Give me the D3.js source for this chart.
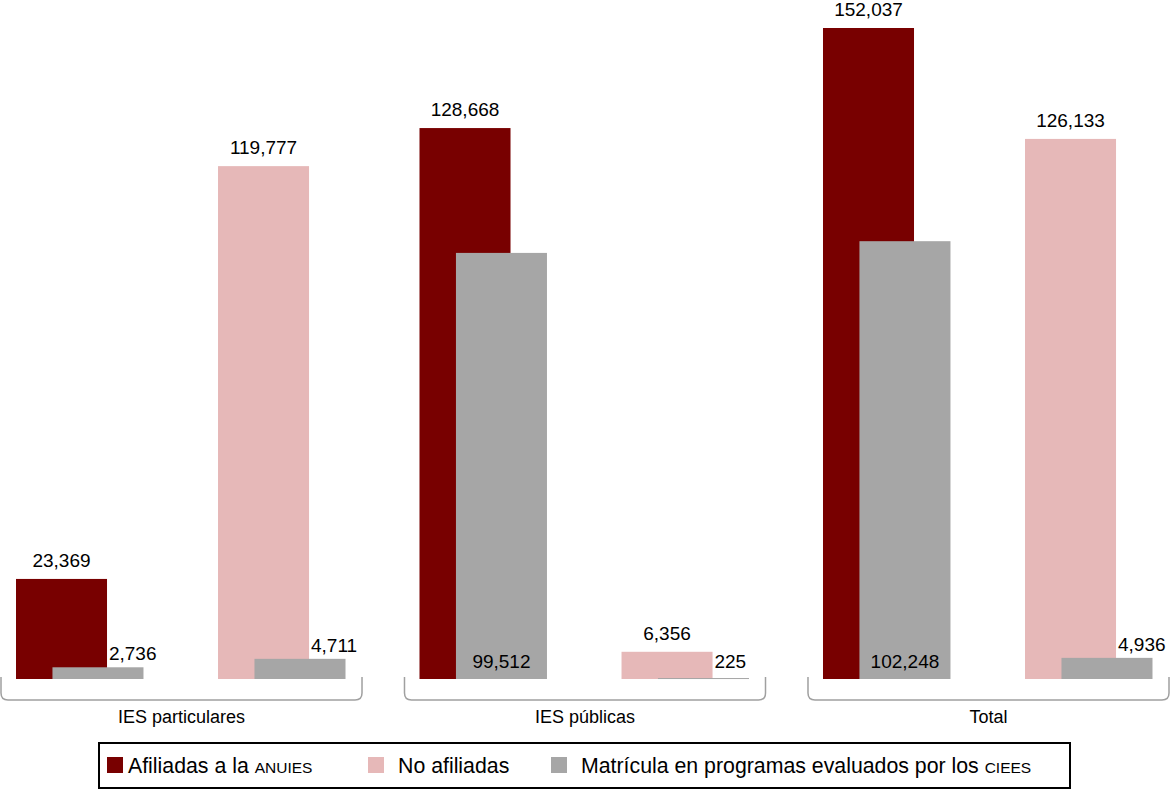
<!DOCTYPE html>
<html>
<head>
<meta charset="utf-8">
<script src="https://cdn.jsdelivr.net/npm/d3@7"></script>
<style>
  body { margin: 0; background: #fff; }
  svg { display: block; font-family: "Liberation Sans", Arial, sans-serif; }
</style>
</head>
<body>
<svg id="chart" width="1170" height="790"></svg>
<script>
// data
var groups = ["IES particulares", "IES públicas", "Total"];
var subgroups = ["Afiliadas", "No afiliadas"];
var afiliadas = [23369, 128668, 152037];
var noAfiliadas = [119777, 6356, 126133];
var ciessAfiliadas = [2736, 99512, 102248];
var ciessNoAfiliadas = [4711, 225, 4936];
var legendLabels = [
    ["Afiliadas a la ", "ANUIES"],
    ["No afiliadas", ""],
    ["Matrícula en programas evaluados por los ", "CIEES"]
];

var colors = { dark: "#780000", pink: "#e6b8b8", gray: "#a6a6a6" };
var fmt = d3.format(",");

var svg = d3.select("#chart");
var baseline = 679;

var x = d3.scaleBand().domain(groups).range([1, 1169]).paddingInner(0.1053).paddingOuter(0);
var xs = d3.scaleBand().domain(subgroups).range([15, 344.5]).paddingInner(0.369).paddingOuter(0);
var y = d3.scaleLinear().domain([0, d3.max(afiliadas)]).range([baseline, 28]);

var bw = xs.bandwidth();
var mainW = bw * 0.714;
var grayOff = bw * 0.286;

// build flat list of bar pairs
var pairs = [];
groups.forEach(function (g, i) {
    pairs.push({ g: g, s: "Afiliadas", v: afiliadas[i], c: ciessAfiliadas[i], color: colors.dark });
    pairs.push({ g: g, s: "No afiliadas", v: noAfiliadas[i], c: ciessNoAfiliadas[i], color: colors.pink });
});

function tall(d) { return baseline - y(d.c) > 40; }

// main bars
svg.selectAll("rect.main").data(pairs).enter().append("rect")
    .attr("class", "main")
    .attr("x", function (d) { return x(d.g) + xs(d.s); })
    .attr("y", function (d) { return y(d.v); })
    .attr("width", mainW)
    .attr("height", function (d) { return baseline - y(d.v); })
    .style("fill", function (d) { return d.color; });

// gray bars (on top)
svg.selectAll("rect.ciees").data(pairs).enter().append("rect")
    .attr("class", "ciees")
    .attr("x", function (d) { return x(d.g) + xs(d.s) + grayOff; })
    .attr("y", function (d) { return y(d.c); })
    .attr("width", mainW)
    .attr("height", function (d) { return Math.max(baseline - y(d.c), 1); })
    .style("fill", colors.gray);

// labels of main bars
svg.selectAll("text.mainlab").data(pairs).enter().append("text")
    .attr("x", function (d) { return x(d.g) + xs(d.s) + mainW / 2; })
    .attr("y", function (d) { return y(d.v) - 12; })
    .attr("text-anchor", "middle")
    .style("font-size", "19px")
    .style("fill", "#000")
    .text(function (d) { return fmt(d.v); });

// labels of gray bars: inside at the bottom when tall, else just right of the top
svg.selectAll("text.cieeslab").data(pairs).enter().append("text")
    .attr("x", function (d) {
        var cx = x(d.g) + xs(d.s) + grayOff + mainW / 2;
        return tall(d) ? cx : cx + 11;
    })
    .attr("y", function (d) { return tall(d) ? 668 : Math.min(y(d.c) - 7, 668); })
    .attr("text-anchor", function (d) { return tall(d) ? "middle" : "start"; })
    .style("font-size", "19px")
    .style("fill", "#000")
    .text(function (d) { return fmt(d.c); });

// brackets under each group
var r = 7;
groups.forEach(function (g) {
    var x0 = x(g), x1 = x(g) + x.bandwidth();
    var p = d3.path();
    p.moveTo(x0, 677);
    p.lineTo(x0, 700 - r);
    p.quadraticCurveTo(x0, 700, x0 + r, 700);
    p.lineTo(x1 - r, 700);
    p.quadraticCurveTo(x1, 700, x1, 700 - r);
    p.lineTo(x1, 677);
    svg.append("path").attr("d", p.toString())
        .style("fill", "none").style("stroke", "#a0a0a0").style("stroke-width", 1.5);
    svg.append("text")
        .attr("x", x0 + x.bandwidth() / 2)
        .attr("y", 723)
        .attr("text-anchor", "middle")
        .style("font-size", "18px")
        .text(g);
});

// legend
svg.append("rect").attr("x", 99).attr("y", 743).attr("width", 971).attr("height", 45)
    .style("fill", "#fff").style("stroke", "#000").style("stroke-width", 2);

var legendX = [107, 368, 551];
var legendColors = [colors.dark, colors.pink, colors.gray];
legendLabels.forEach(function (l, i) {
    svg.append("rect").attr("x", legendX[i]).attr("y", 757).attr("width", 16).attr("height", 16)
        .style("fill", legendColors[i]);
    var t = svg.append("text")
        .attr("x", legendX[i] + (i == 0 ? 21 : 30))
        .attr("y", 773)
        .style("font-size", "21.3px");
    t.append("tspan").text(l[0]);
    if (l[1]) t.append("tspan").style("font-size", "15.5px").text(l[1]);
});
</script>
</body>
</html>
